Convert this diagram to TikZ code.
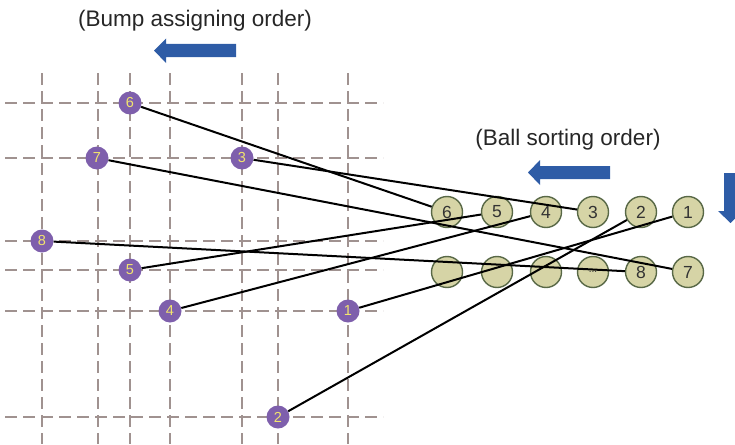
\documentclass[tikz,border=0pt]{standalone}
\usepackage{fontspec}
\setmainfont{Liberation Sans}
\usetikzlibrary{calc}
\definecolor{gridc}{RGB}{160,146,144}
\definecolor{bumpc}{RGB}{126,95,172}
\definecolor{bumptxt}{RGB}{242,228,110}
\definecolor{ballc}{RGB}{214,212,166}
\definecolor{balledge}{RGB}{88,104,70}
\definecolor{arrowc}{RGB}{46,92,166}
\tikzset{
  gridline/.style={gridc, line width=1.3pt, dash pattern=on 12pt off 6pt},
  bump/.style={circle, fill=bumpc, minimum size=23pt, inner sep=0pt, text=bumptxt, font=\fontsize{14.5}{14.5}\selectfont},
  ball/.style={circle, fill=ballc, draw=balledge, line width=1.4pt, minimum size=31pt, inner sep=0pt, text=black!80, font=\fontsize{17.5}{17.5}\selectfont},
  wire/.style={black, line width=2pt},
  title/.style={font=\fontsize{22.5}{22.5}\selectfont, text=black!85, inner sep=0pt},
  bigarrow/.style={fill=arrowc, draw=none}
}
\begin{document}
\begin{tikzpicture}[x=1pt,y=-1pt]
\useasboundingbox (0,0) rectangle (735,444);
% grid
\foreach \x in {42,98,130,170,242,278,348} \draw[gridline] (\x,73) -- (\x,444);
\foreach \y in {103,158,241,270,311,417} \draw[gridline] (5,\y) -- (383,\y);
% titles
\node[title] (t1) at (195,21) {(Bump assigning order)};
\node[title] (t2) at (568,140) {(Ball sorting order)};
% arrows
\fill[bigarrow] (236,44) -- (166,44) -- (166,38.5) -- (154,50.5) -- (166,63) -- (166,57) -- (236,57) -- cycle;
\fill[bigarrow] (610,166) -- (540,166) -- (540,160) -- (528,172.5) -- (540,185) -- (540,179) -- (610,179) -- cycle;
\fill[bigarrow] (724,173) -- (737,173) -- (737,211) -- (743,211) -- (730.5,223) -- (718,211) -- (724,211) -- cycle;
% balls
\node[ball] (b6) at (447,212) {6};
\node[ball] (b5) at (497,212) {5};
\node[ball] (b4) at (546,212) {4};
\node[ball] (b3) at (593,212) {3};
\node[ball] (b2) at (641,212) {2};
\node[ball] (b1) at (688,212) {1};
\node[ball] (e1) at (447,272) {};
\node[ball] (e2) at (497,272) {};
\node[ball] (e3) at (546,272) {};
\node[ball] (e4) at (593,272) {\fontsize{10}{10}\selectfont ...};
\node[ball] (b8) at (641,272) {8};
\node[ball] (b7) at (688,272) {7};
% bumps
\node[bump] (p6) at (130,103) {6};
\node[bump] (p7) at (97,158) {7};
\node[bump] (p3) at (242,158) {3};
\node[bump] (p8) at (42,241) {8};
\node[bump] (p5) at (130,270) {5};
\node[bump] (p4) at (170,311) {4};
\node[bump] (p1) at (348,311) {1};
\node[bump] (p2) at (278,417) {2};
% wires
\draw[wire] (p6) -- (b6);
\draw[wire] (p3) -- (b3);
\draw[wire] (p7) -- (b7);
\draw[wire] (p8) -- (b8);
\draw[wire] (p5) -- (b5);
\draw[wire] (p4) -- (b4);
\draw[wire] (p1) -- (b1);
\draw[wire] (p2) -- (b2);
\end{tikzpicture}
\end{document}
